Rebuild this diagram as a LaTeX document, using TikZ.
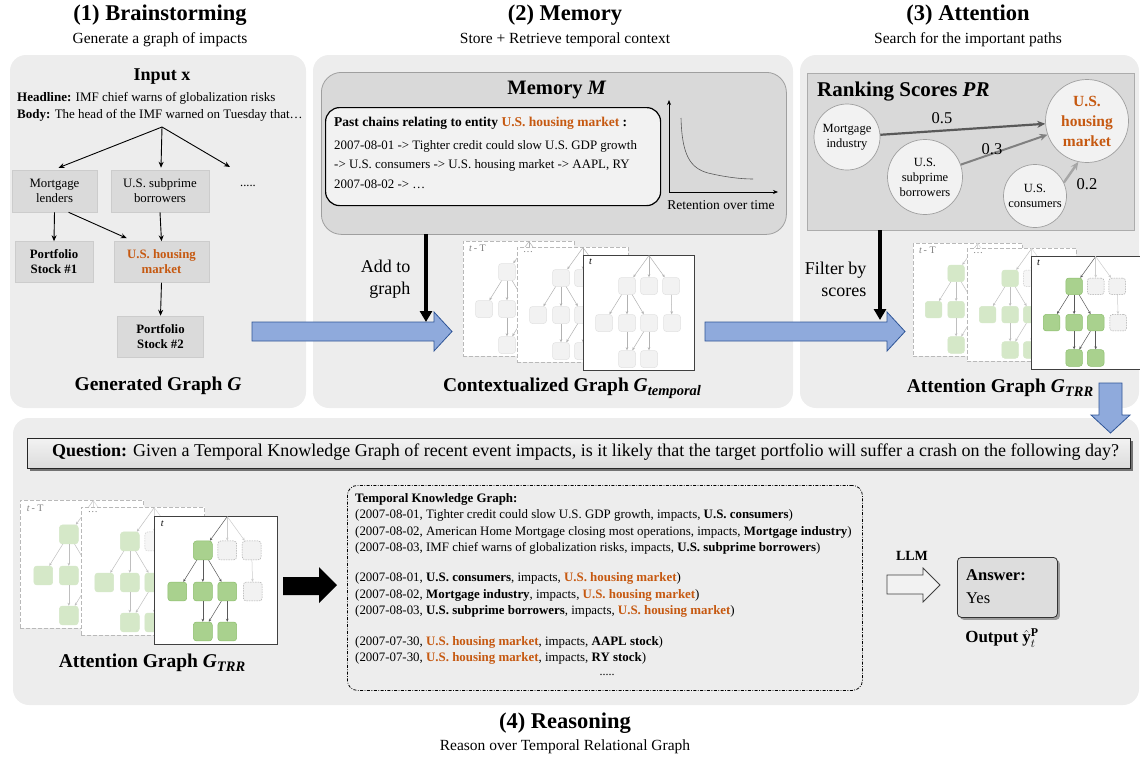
\documentclass[tikz,border=0pt]{standalone}
\usepackage{fontspec}
\setmainfont{Liberation Serif}
\usetikzlibrary{arrows.meta,calc,shadows}
\definecolor{panelbg}{HTML}{EDEDED}
\definecolor{boxgray}{HTML}{D9D9D9}
\definecolor{nodegray}{HTML}{DADADA}
\definecolor{nodebord}{HTML}{CCCCCC}
\definecolor{orng}{HTML}{C65911}
\definecolor{bluef}{HTML}{8FAADC}
\definecolor{blued}{HTML}{2F5597}
\definecolor{gnode}{HTML}{F2F2F2}
\definecolor{gnodeb}{HTML}{E2E2E2}
\definecolor{grn}{HTML}{A9D18E}
\definecolor{grnb}{HTML}{8DBF6E}
\definecolor{lgrn}{HTML}{D5E8C8}
\definecolor{pastf}{HTML}{F2F2F2}
\definecolor{ansf}{HTML}{DDDDDD}
\newcommand\fsz[2]{\fontsize{#1}{#2}\selectfont}
\newcommand\hl[1]{\textcolor{orng}{\textbf{#1}}}
\newcommand\sbs[1]{\raisebox{-4pt}{\fsz{14.5}{15}#1}}
\newcommand\mgraph[6]{%
\begin{scope}[shift={(#2,#3)},#5]
\node[frm,anchor=north west,minimum width={111*#4pt},minimum height={115*#4pt},inner sep=0pt] (#1F) at (0,0) {};
\node[anchor=north west,inner sep=0pt,font=\fsz{10}{11}] (#1L) at ({6*#4},{4*#4}) {#6};
\coordinate (#1r) at ({66*#4},{0.5*#4});
\begin{scope}[every node/.append style={minimum size={17*#4pt},inner sep=0pt,rounded corners=3pt}]
\node[mA] (#1a) at ({44*#4},{31*#4}) {};
\node[mB] (#1b) at ({66*#4},{31*#4}) {};
\node[mB] (#1c) at ({88*#4},{31*#4}) {};
\node[mA] (#1d) at ({21*#4},{68*#4}) {};
\node[mA] (#1e) at ({44*#4},{68*#4}) {};
\node[mA] (#1f) at ({66*#4},{68*#4}) {};
\node[mB] (#1g) at ({89*#4},{68*#4}) {};
\node[mA] (#1h) at ({44*#4},{104*#4}) {};
\node[mA] (#1i) at ({66*#4},{104*#4}) {};
\end{scope}
\draw[eA] (#1r) -- (#1a);
\draw[eB] (#1r) -- (#1b);
\draw[eB] (#1r) -- (#1c);
\draw[eA] (#1a) -- (#1d);
\draw[eA] (#1a) -- (#1e);
\draw[eA] (#1a) -- (#1f);
\draw[eB] (#1c) -- (#1g);
\draw[eA] (#1e) -- (#1h);
\draw[eA] (#1f) -- (#1h);
\draw[eA] (#1f) -- (#1i);
\end{scope}}
\tikzset{
  smalltip/.style={-{Stealth[length=3pt,width=2.6pt]}},
  fback/.style={draw=gray!55,dash pattern=on 4pt off 2pt,fill=white,line width=0.8pt},
  ftop/.style={draw=black!75,fill=white,line width=0.9pt},
  graygraph/.style={mA/.style={fill=gnode,draw=gnodeb,line width=0.5pt},
    mB/.style={fill=gnode,draw=gnodeb,line width=0.5pt},
    eA/.style={draw=gray!60,line width=0.5pt,smalltip},
    eB/.style={draw=gray!60,line width=0.5pt,smalltip}},
  greentop/.style={mA/.style={fill=grn,draw=grnb,line width=0.5pt},
    mB/.style={fill=gnode,draw=gray!65,dash pattern=on 1.5pt off 1pt,line width=0.5pt},
    eA/.style={draw=black!65,line width=0.5pt,smalltip},
    eB/.style={draw=gray!40,line width=0.5pt,smalltip}},
  greenback/.style={mA/.style={fill=lgrn,draw=lgrn,line width=0.5pt},
    mB/.style={fill=gnode!70,draw=gray!40,dash pattern=on 1.5pt off 1pt,line width=0.5pt},
    eA/.style={draw=gray!50,line width=0.5pt,smalltip},
    eB/.style={draw=gray!30,line width=0.5pt,smalltip}},
  gbox/.style={draw=nodebord,fill=nodegray,line width=0.5pt,align=center,inner sep=1pt,font=\fsz{12.8}{15}},
  edgeone/.style={line width=0.9pt,-{Stealth[length=6pt,width=5pt]}},
  ttl/.style={font=\bfseries\fsz{22.5}{25}},
  subttl/.style={font=\fsz{15.5}{18}},
  capt/.style={font=\bfseries\fsz{19.5}{22}},
  circ/.style={circle,draw=gray!75,fill=gnode,line width=0.7pt,align=center,inner sep=0pt,font=\fsz{12.5}{15}},
  scorelbl/.style={font=\fsz{16.5}{18}},
  bigarrow/.style={line width=3.3pt,-{Triangle[length=11pt,width=12pt]}},
  sidelbl/.style={font=\fsz{18}{22},align=right,anchor=east},
  tkg/.style={anchor=west,inner sep=0pt,font=\fsz{12.9}{14},text height=9pt,text depth=3pt},
}
\begin{document}
\begin{tikzpicture}[x=1pt,y=-1pt]
\useasboundingbox (0,0) rectangle (1140,761);
% ---------- panels ----------
\fill[panelbg,rounded corners=16pt] (10,55) rectangle (306,408);
\fill[panelbg,rounded corners=16pt] (313,55) rectangle (793,408);
\fill[panelbg,rounded corners=16pt] (800,55) rectangle (1139,408);
\fill[panelbg,rounded corners=16pt] (13,418) rectangle (1139,705);
% ---------- titles ----------
\node[ttl] (t1) at (160,15) {(1) Brainstorming};
\node[subttl] (s1) at (160,40) {Generate a graph of impacts};
\node[ttl] (t2) at (565,15) {(2) Memory};
\node[subttl] (s2) at (565,40) {Store + Retrieve temporal context};
\node[ttl] (t3) at (968,15) {(3) Attention};
\node[subttl] (s3) at (968,40) {Search for the important paths};
\node[ttl] (t4) at (565,723) {(4) Reasoning};
\node[subttl] (s4) at (565,747) {Reason over Temporal Relational Graph};
% ---------- panel 1 ----------
\node[font=\bfseries\fsz{18}{20}] (inp) at (162,77) {Input x};
\node[anchor=west,inner sep=0pt,font=\fsz{13}{15}] (head) at (17,98) {\textbf{Headline:} IMF chief warns of globalization risks};
\node[anchor=west,inner sep=0pt,font=\fsz{13}{15}] (body) at (17,115) {\textbf{Body:} The head of the IMF warned on Tuesday that\ldots};
\coordinate (fork) at (162,127);
\node[gbox,minimum width=85,minimum height=42] (ml) at (54.5,191) {Mortgage\\lenders};
\node[gbox,minimum width=98,minimum height=42] (sb) at (160,191) {U.S. subprime\\borrowers};
\node[inner sep=0pt,font=\fsz{12.5}{15}] (more) at (248,186) {.....};
\coordinate (moretop) at (230,167);
\node[gbox,minimum width=78,minimum height=41,font=\bfseries\fsz{12.8}{15}] (ps1) at (54,262) {Portfolio\\Stock \#1};
\node[gbox,minimum width=95,minimum height=41,font=\bfseries\fsz{12.8}{15},text=orng] (hm) at (161.5,262) {U.S. housing\\market};
\node[gbox,minimum width=86,minimum height=41,font=\bfseries\fsz{12.8}{15}] (ps2) at (160.5,336.5) {Portfolio\\Stock \#2};
\draw[edgeone] (fork) -- ($(ml.north)+(4,-2)$);
\draw[edgeone] (fork) -- ($(sb.north)+(1,-2)$);
\draw[edgeone] (fork) -- (moretop);
\draw[edgeone] (ml.south) -- (ps1.north);
\draw[edgeone] ($(ml.south)+(14,0)$) -- ($(hm.north west)+(13,-3)$);
\draw[edgeone] (sb.south) -- (hm.north);
\draw[edgeone] (hm.south) -- (ps2.north);
\node[capt] (c1) at (158,386) {Generated Graph \textit{G}};
% ---------- blue arrows ----------
\draw[blued,fill=bluef,line width=0.8pt] (252,322) -- (434,322) -- (434,312) -- (452,331.5) -- (434,351) -- (434,341) -- (252,341) -- cycle;
\draw[blued,fill=bluef,line width=0.8pt] (705,322) -- (887,322) -- (887,312) -- (905,331.5) -- (887,351) -- (887,341) -- (705,341) -- cycle;
% ---------- panel 2 ----------
\node[draw=gray!75,fill=boxgray,rounded corners=20pt,line width=0.8pt,minimum width=465,minimum height=162,anchor=north west] (mem) at (321,72) {};
\node[font=\bfseries\fsz{20.5}{22}] (memt) at (557,90) {Memory \textit{M}};
\node[draw=black,fill=pastf,rounded corners=14pt,line width=1.2pt,minimum width=335,minimum height=98,anchor=north west] (past) at (325,107) {};
\node[anchor=west,inner sep=0pt,font=\bfseries\fsz{13.5}{15}] (pastt) at (334,123) {Past chains relating to entity \textcolor{orng}{U.S. housing market} :};
\node[anchor=west,inner sep=0pt,font=\fsz{12.9}{15}] (pl1) at (334,146) {2007-08-01 -> Tighter credit could slow U.S. GDP growth};
\node[anchor=west,inner sep=0pt,font=\fsz{12.9}{15}] (pl2) at (334,165) {-> U.S. consumers -> U.S. housing market -> AAPL, RY};
\node[anchor=west,inner sep=0pt,font=\fsz{12.9}{15}] (pl3) at (334,184) {2007-08-02 -> \ldots};
\coordinate (org) at (669,192);
\coordinate (yax) at (669,100);
\coordinate (xax) at (778,192);
\draw[line width=0.7pt,-{Stealth[length=5pt,width=4pt]}] (org) -- (yax);
\draw[line width=0.7pt,-{Stealth[length=5pt,width=4pt]}] (org) -- (xax);
\draw[gray!70!black,line width=0.6pt] (681,118) .. controls (682,155) and (690,168) .. (708,173) .. controls (725,177) and (740,179) .. (753,179);
\node[font=\fsz{13.5}{15}] (ret) at (721,205) {Retention over time};
\coordinate (addtop) at (426,234);
\coordinate (addbot) at (426,322);
\draw[bigarrow] (addtop) -- (addbot);
\node[sidelbl] (addl) at (414,279) {Add to\\graph};
\mgraph{pa}{463}{241}{1}{graygraph,frm/.style=fback}{\color{gray}\textit{t}\,- T}
\mgraph{pb}{517}{247}{1}{graygraph,frm/.style=fback}{\color{gray}\ldots}
\mgraph{pc}{583}{255}{1}{graygraph,frm/.style=ftop}{\textit{t}}
\node[capt] (c2) at (572,388) {Contextualized Graph \textit{G\sbs{temporal}}};
% ---------- panel 3 ----------
\node[draw=gray!65,fill=boxgray,line width=0.8pt,minimum width=327,minimum height=157,anchor=north west] (rank) at (807,73) {};
\node[anchor=west,inner sep=0pt,font=\bfseries\fsz{21}{23}] (rankt) at (817,92) {Ranking Scores \textit{PR}};
\node[circ,minimum size=66] (mi) at (847,137) {Mortgage\\industry};
\node[circ,minimum size=75] (usb) at (925,177) {U.S.\\subprime\\borrowers};
\node[circ,minimum size=63] (usc) at (1035,196) {U.S.\\consumers};
\node[circ,minimum size=83,font=\bfseries\fsz{15.5}{20},text=orng] (ushm) at (1087,121) {U.S.\\housing\\market};
\draw[draw=black!65,line width=2.2pt,-{Stealth[length=8pt,width=7pt]}] (mi) -- (ushm);
\draw[draw=black!50,line width=2pt,-{Stealth[length=8pt,width=7pt]}] (usb) -- (ushm);
\draw[draw=black!35,line width=2.4pt,-{Stealth[length=8pt,width=7pt]}] (usc.25) -- (ushm.258);
\node[scorelbl] (s05) at (942,118) {0.5};
\node[scorelbl] (s03) at (992,149) {0.3};
\node[scorelbl] (s02) at (1087,184) {0.2};
\coordinate (filtop) at (880,230);
\coordinate (filbot) at (880,320);
\draw[bigarrow] (filtop) -- (filbot);
\node[sidelbl] (filt) at (870,279) {Filter by\\scores};
\mgraph{qa}{913}{243}{0.98}{greenback,frm/.style=fback}{\color{gray}\textit{t}\,- T}
\mgraph{qb}{967}{248}{0.98}{greenback,frm/.style=fback}{\color{gray}\ldots}
\mgraph{qc}{1031}{256}{0.98}{greentop,frm/.style=ftop}{\textit{t}}
\node[capt] (c3) at (1000,388) {Attention Graph \textit{G\sbs{TRR}}};
% ---------- down arrow ----------
\draw[blued,fill=bluef,line width=0.8pt] (1099,383) -- (1122,383) -- (1122,415) -- (1130,415) -- (1110.5,433) -- (1091,415) -- (1099,415) -- cycle;
% ---------- panel 4 ----------
\node[draw=black!85,line width=0.9pt,top color=gray!10,bottom color=gray!28,drop shadow={shadow xshift=3pt,shadow yshift=-3pt,fill=black!75,opacity=0.7},minimum width=1103,minimum height=30,anchor=north west] (q) at (27,438) {};
\node[anchor=west,inner sep=0pt,font=\fsz{18}{20}] (qt) at (52,452) {\textbf{Question:} Given a Temporal Knowledge Graph of recent event impacts, is it likely that the target portfolio will suffer a crash on the following day?};
\mgraph{ra}{20}{500}{1.11}{greenback,frm/.style=fback}{\color{gray}\textit{t}\,- T}
\mgraph{rb}{81}{507}{1.11}{greenback,frm/.style=fback}{\color{gray}\ldots}
\mgraph{rc}{154}{516}{1.11}{greentop,frm/.style=ftop}{\textit{t}}
\node[capt] (c4) at (152,663) {Attention Graph \textit{G\sbs{TRR}}};
\fill[black] (283,577) -- (319,577) -- (319,567) -- (337,585) -- (319,603) -- (319,595) -- (283,595) -- cycle;
\node[draw=black,line width=0.8pt,dash pattern=on 3pt off 1.5pt on 0.8pt off 1.5pt,rounded corners=10pt,minimum width=515,minimum height=205,anchor=north west] (tkgbox) at (347,485) {};
\node[tkg] (k0) at (355,499) {\textbf{Temporal Knowledge Graph:}};
\node[tkg] (k1) at (355,515) {(2007-08-01, Tighter credit could slow U.S. GDP growth, impacts, \textbf{U.S. consumers})};
\node[tkg] (k2) at (355,532) {(2007-08-02, American Home Mortgage closing most operations, impacts, \textbf{Mortgage industry})};
\node[tkg] (k3) at (355,548) {(2007-08-03, IMF chief warns of globalization risks, impacts, \textbf{U.S. subprime borrowers})};
\node[tkg] (k4) at (355,578) {(2007-08-01, \textbf{U.S. consumers}, impacts, \hl{U.S. housing market})};
\node[tkg] (k5) at (355,595) {(2007-08-02, \textbf{Mortgage industry}, impacts, \hl{U.S. housing market})};
\node[tkg] (k6) at (355,611) {(2007-08-03, \textbf{U.S. subprime borrowers}, impacts, \hl{U.S. housing market})};
\node[tkg] (k7) at (355,642) {(2007-07-30, \hl{U.S. housing market}, impacts, \textbf{AAPL stock})};
\node[tkg] (k8) at (355,658) {(2007-07-30, \hl{U.S. housing market}, impacts, \textbf{RY stock})};
\node[font=\fsz{12}{14}] (k9) at (607,675) {.....};
\node[font=\bfseries\fsz{14}{16}] (llm) at (912,556) {LLM};
\draw[draw=black!75,fill=gnode,line width=0.8pt] (887,575) -- (923,575) -- (923,568) -- (940,585) -- (923,602) -- (923,594) -- (887,594) -- cycle;
\node[draw=black!80,fill=ansf,line width=0.8pt,rounded corners=4pt,drop shadow={shadow xshift=2.5pt,shadow yshift=-2.5pt,fill=black!60,opacity=0.6},minimum width=100,minimum height=60,anchor=north west] (ans) at (957,557) {};
\node[anchor=west,inner sep=0pt,font=\bfseries\fsz{16.5}{18}] (ans1) at (966,575) {Answer:};
\node[anchor=west,inner sep=0pt,font=\fsz{16.5}{18}] (ans2) at (966,598) {Yes};
\node[font=\bfseries\fsz{17}{18}] (outp) at (1002,638) {Output $\hat{\mathbf{y}}_t^{\mathbf{P}}$};
\end{tikzpicture}
\end{document}
